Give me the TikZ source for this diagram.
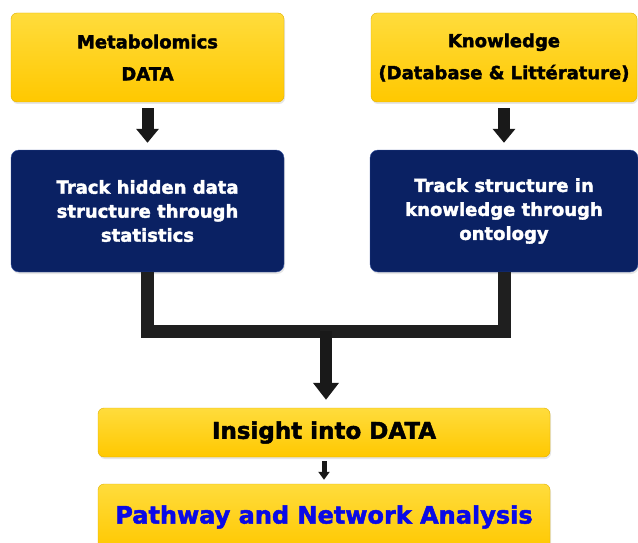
\documentclass[tikz,border=0pt]{standalone}
\usepackage{fontspec}
\setmainfont{DejaVu Sans}[BoldFeatures={FakeBold=2}]
\usetikzlibrary{calc, arrows.meta, shadows}

\definecolor{gold}{HTML}{FFC800}
\definecolor{goldlight}{HTML}{FFDC3C}
\definecolor{goldedge}{HTML}{E0B000}
\definecolor{navy}{HTML}{0A2163}
\definecolor{navyedge}{HTML}{3552A0}
\definecolor{linkblue}{HTML}{0A0AE6}

\begin{document}
\begin{tikzpicture}[x=1pt, y=-1pt,
    yellowbox/.style={draw=goldedge, rounded corners=6pt, top color=goldlight, bottom color=gold,
        text=black, align=center, inner sep=0pt,
        drop shadow={opacity=0.2, shadow xshift=1pt, shadow yshift=-2pt}},
    navybox/.style={draw=navyedge, rounded corners=8pt, fill=navy, text=white, align=center, inner sep=0pt,
        drop shadow={opacity=0.2, shadow xshift=1pt, shadow yshift=-2pt}},
    smalltext/.style={font=\fontsize{18}{32}\selectfont\bfseries},
    midtext/.style={font=\fontsize{18}{24}\selectfont\bfseries},
    bigtext/.style={font=\fontsize{23}{28}\selectfont\bfseries},
    blockarrow/.style={draw=black!90, line width=12pt, -{Triangle[width=22pt, length=14pt]}},
    bar/.style={draw=black!88, line width=13pt, line join=miter}]
    \clip (0, 0) rectangle (638, 543);

    % sources
    \node[yellowbox, smalltext, minimum width=273pt, minimum height=89pt] (meta) at (147.5, 57.5) {Metabolomics\\DATA};
    \node[yellowbox, smalltext, minimum width=266pt, minimum height=89pt] (know) at (504, 57.5) {Knowledge\\(Database \& Littérature)};

    % tracking
    \node[navybox, midtext, minimum width=273pt, minimum height=122pt] (stat) at (147.5, 211) {Track hidden data\\structure through\\statistics};
    \node[navybox, midtext, minimum width=268pt, minimum height=122pt] (onto) at (504, 211) {Track structure in\\knowledge through\\ontology};

    % results
    \node[yellowbox, bigtext, minimum width=452pt, minimum height=49pt] (insight) at (324, 432.5) {Insight into DATA};
    \node[yellowbox, bigtext, font=\fontsize{24}{28}\selectfont\bfseries, text=linkblue, minimum width=452pt, minimum height=66pt] (path) at (324, 517) {Pathway and Network Analysis};

    \coordinate (join) at (326, 331);

    \draw[blockarrow, shorten <=6pt, shorten >=7pt] (meta.south) -- (stat.north);
    \draw[blockarrow, shorten <=6pt, shorten >=7pt] (know.south) -- (onto.north);

    \draw[bar] (stat.south) |- (join) -| (onto.south);
    \draw[blockarrow, -{Triangle[width=25pt, length=17pt]}, shorten >=8pt] (join) -- (join |- insight.north);

    \draw[draw=black!90, line width=5pt, -{Triangle[width=11pt, length=8pt]}, shorten <=4pt, shorten >=4pt] (insight.south) -- (path.north);
\end{tikzpicture}
\end{document}
